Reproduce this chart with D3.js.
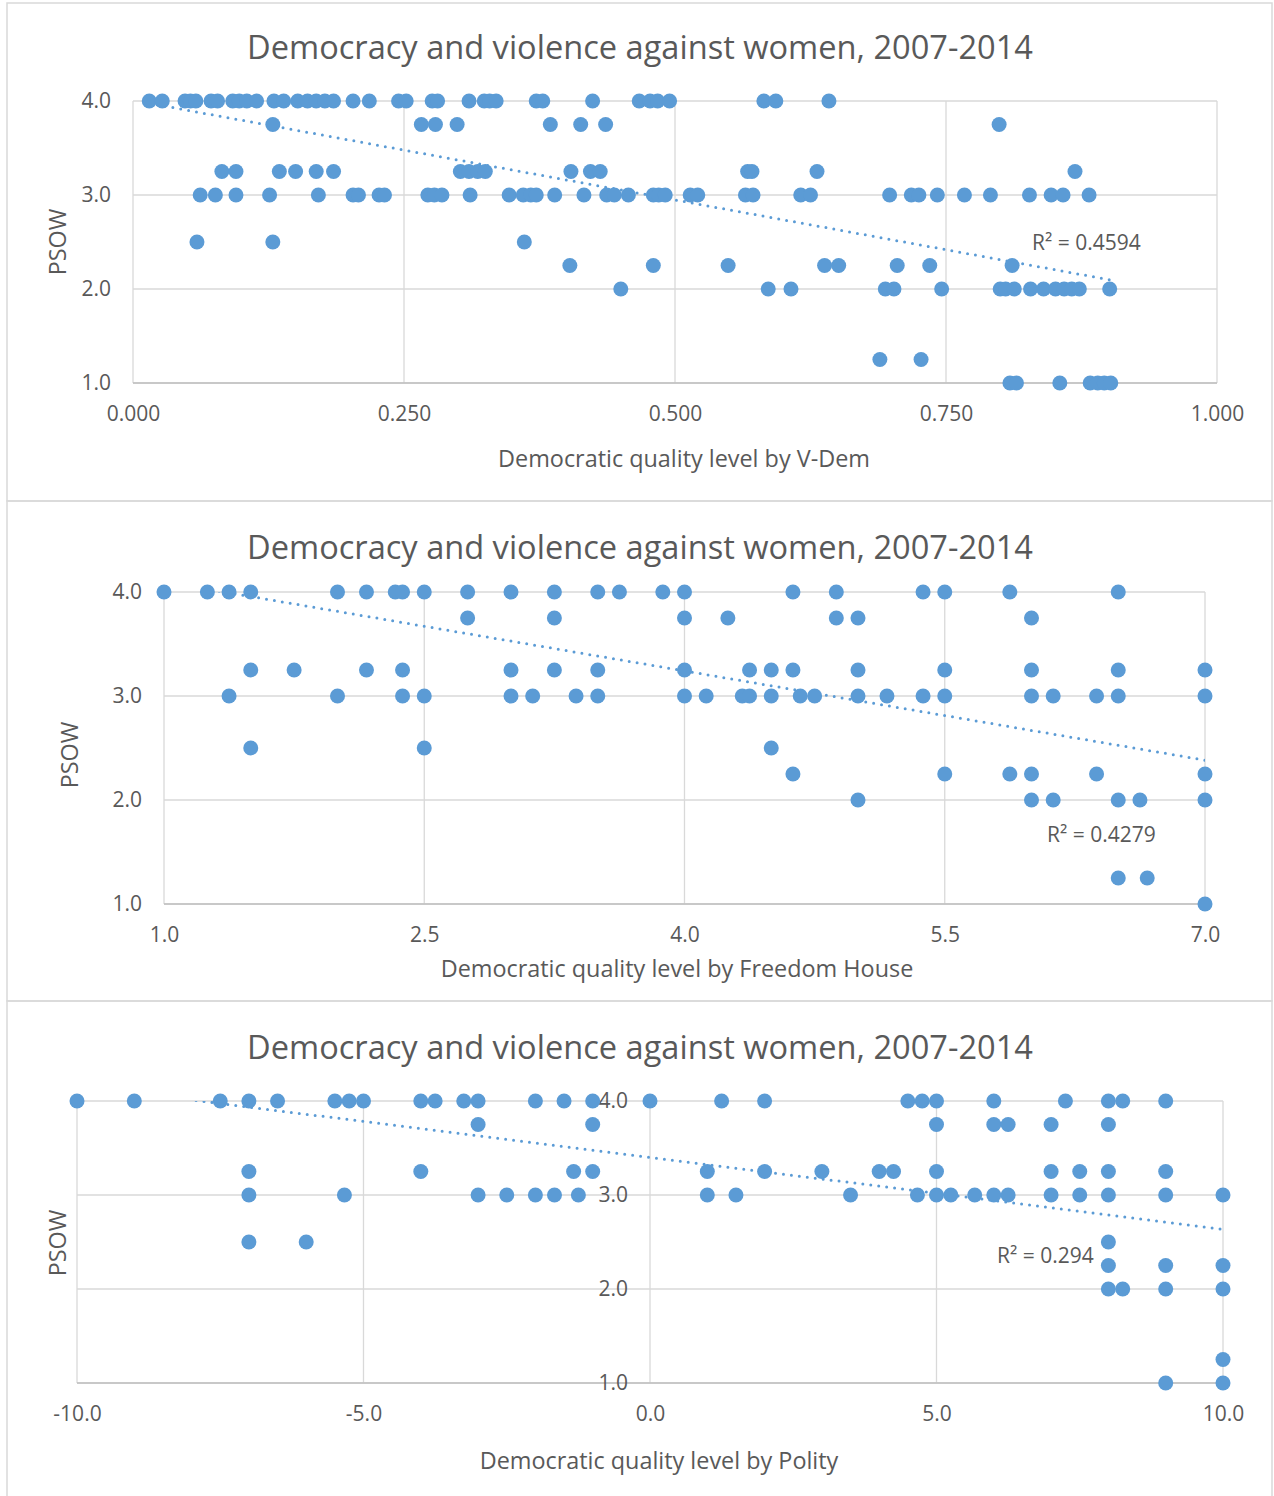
<!DOCTYPE html>
<html>
<head>
<meta charset="utf-8">
<script src="https://cdn.jsdelivr.net/npm/d3@7"></script>
<style>
  body { margin: 0; background: #fff; }
  svg { display: block; font-family: "Open Sans", sans-serif; }
</style>
</head>
<body>
<svg id="chart" width="1274" height="1496"></svg>
<script>
const blue = '#5b9bd5';
const grey = '#595959';
const gridGrey = '#d9d9d9';
const chartTitle = 'Democracy and violence against women, 2007-2014';

// every x list below lines up with these PSOW levels
const psowLevels = [4, 3.75, 3.25, 3, 2.5, 2.25, 2, 1.25, 1];
const psowTicks = [1, 2, 3, 4];

// V-Dem
const vdemScores = [
  [0.015, 0.027, 0.048, 0.053, 0.058, 0.072, 0.078, 0.092, 0.098, 0.105, 0.114, 0.130, 0.139,
   0.152, 0.161, 0.169, 0.177, 0.185, 0.203, 0.218, 0.245, 0.252, 0.276, 0.281, 0.310, 0.324,
   0.329, 0.335, 0.372, 0.378, 0.424, 0.467, 0.477, 0.484, 0.495, 0.582, 0.593, 0.642],
  [0.129, 0.266, 0.279, 0.299, 0.385, 0.413, 0.436, 0.799],
  [0.082, 0.095, 0.135, 0.150, 0.169, 0.185, 0.302, 0.310, 0.318, 0.325, 0.404, 0.422, 0.431,
   0.567, 0.571, 0.631, 0.869],
  [0.062, 0.076, 0.095, 0.126, 0.171, 0.203, 0.208, 0.227, 0.232, 0.272, 0.278, 0.285, 0.311,
   0.347, 0.360, 0.367, 0.372, 0.389, 0.416, 0.437, 0.444, 0.457, 0.480, 0.485, 0.491, 0.514,
   0.521, 0.565, 0.572, 0.616, 0.625, 0.698, 0.718, 0.725, 0.742, 0.767, 0.791, 0.827, 0.847,
   0.858, 0.882],
  [0.059, 0.129, 0.361],
  [0.403, 0.480, 0.549, 0.638, 0.651, 0.705, 0.735, 0.811],
  [0.450, 0.586, 0.607, 0.694, 0.702, 0.746, 0.800, 0.805, 0.813, 0.828, 0.840, 0.851, 0.859,
   0.866, 0.873, 0.901],
  [0.689, 0.727],
  [0.809, 0.815, 0.855, 0.883, 0.890, 0.896, 0.902]
];
const vdemTrend = [[0.015, 3.976], [0.902, 2.096]];
const vdemTicks = [0, 0.25, 0.5, 0.75, 1];

// Freedom House
const fhScores = [
  [1, 1.25, 1.375, 1.5, 2, 2.167, 2.333, 2.375, 2.5, 2.75, 3, 3.25, 3.5, 3.625, 3.875, 4,
   4.625, 4.875, 5.375, 5.5, 5.875, 6.5],
  [2.75, 3.25, 4, 4.25, 4.875, 5, 6],
  [1.5, 1.75, 2.167, 2.375, 3, 3.25, 3.5, 4, 4.375, 4.5, 4.625, 5, 5.5, 6, 6.5, 7],
  [1.375, 2, 2.375, 2.5, 3, 3.125, 3.375, 3.5, 4, 4.125, 4.333, 4.375, 4.5, 4.667, 4.75, 5,
   5.167, 5.375, 5.5, 6, 6.125, 6.375, 6.5, 7],
  [1.5, 2.5, 4.5],
  [4.625, 5.5, 5.875, 6, 6.375, 7],
  [5, 6, 6.125, 6.5, 6.625, 7],
  [6.5, 6.667],
  [7]
];
const fhTrend = [[1, 4.10], [7, 2.383]];
const fhTicks = [1, 2.5, 4, 5.5, 7];

// Polity
const polityScores = [
  [-10, -9, -7.5, -7, -6.5, -5.5, -5.25, -5, -4, -3.75, -3.25, -3, -2, -1.5, -1, 0, 1.25, 2,
   4.5, 4.75, 5, 6, 7.25, 8, 8.25, 9],
  [-3, -1, 5, 6, 6.25, 7, 8],
  [-7, -4, -1.333, -1, 1, 2, 3, 4, 4.25, 5, 7, 7.5, 8, 9],
  [-7, -5.333, -3, -2.5, -2, -1.667, -1.25, 1, 1.5, 3.5, 4.667, 5, 5.25, 5.667, 6, 6.25, 7,
   7.5, 8, 9, 10],
  [-7, -6, 8],
  [8, 9, 10],
  [8, 8.25, 9, 10],
  [10],
  [9, 10]
];
const polityTrend = [[-10, 4.165], [10, 2.635]];
const polityTicks = [-10, -5, 0, 5, 10];

const panels = [
  {
    scores: vdemScores, trend: vdemTrend, ticks: vdemTicks, fmt: d => d.toFixed(3),
    xTitle: 'Democratic quality level by V-Dem', r2: 'R² = 0.4594',
    top: 3, bottom: 501, plot: [133, 1217, 101, 383], yAxisAt: 0,
    titleY: 59, xTitleX: 684, xTitleY: 467, psowX: 58, psowY: 242, r2X: 1032, r2Y: 250
  },
  {
    scores: fhScores, trend: fhTrend, ticks: fhTicks, fmt: d => d.toFixed(1),
    xTitle: 'Democratic quality level by Freedom House', r2: 'R² = 0.4279',
    top: 501, bottom: 1001, plot: [164, 1205, 592, 904], yAxisAt: 1,
    titleY: 559, xTitleX: 677, xTitleY: 977, psowX: 70, psowY: 755, r2X: 1047, r2Y: 842
  },
  {
    scores: polityScores, trend: polityTrend, ticks: polityTicks, fmt: d => d.toFixed(1),
    xTitle: 'Democratic quality level by Polity', r2: 'R² = 0.294',
    top: 1001, bottom: 1500, plot: [77, 1223, 1101, 1383], yAxisAt: 0,
    titleY: 1059, xTitleX: 659, xTitleY: 1469, psowX: 58, psowY: 1243, r2X: 997, r2Y: 1263
  }
];

const svg = d3.select('#chart');

panels.forEach((p, i) => {
  const [left, right, plotTop, plotBottom] = p.plot;
  const g = svg.append('g');

  g.append('rect')
    .attr('x', 7).attr('y', p.top)
    .attr('width', 1265).attr('height', p.bottom - p.top)
    .attr('fill', 'none')
    .attr('stroke', gridGrey)
    .attr('stroke-width', 1.5);

  const x = d3.scaleLinear().domain(d3.extent(p.ticks)).range([left, right]);
  const y = d3.scaleLinear().domain([1, 4]).range([plotBottom, plotTop]);

  // gridlines
  g.append('g')
    .attr('stroke', gridGrey)
    .attr('stroke-width', 1.3)
    .call(grid => grid.selectAll('.h')
      .data(psowTicks)
      .join('line')
        .attr('x1', left).attr('x2', right)
        .attr('y1', d => y(d)).attr('y2', d => y(d)))
    .call(grid => grid.selectAll('.v')
      .data(p.ticks)
      .join('line')
        .attr('x1', d => x(d)).attr('x2', d => x(d))
        .attr('y1', plotTop).attr('y2', plotBottom));

  g.append('line')
    .attr('x1', left).attr('x2', right)
    .attr('y1', plotBottom).attr('y2', plotBottom)
    .attr('stroke', '#bfbfbf')
    .attr('stroke-width', 1.5);

  // axes
  const xAxis = g.append('g')
    .attr('transform', `translate(0,${plotBottom})`)
    .call(d3.axisBottom(x).tickValues(p.ticks).tickFormat(p.fmt).tickSize(0).tickPadding(23));

  const yAxis = g.append('g')
    .attr('transform', `translate(${x(p.yAxisAt)},0)`)
    .call(d3.axisLeft(y).tickValues(psowTicks).tickFormat(d => d.toFixed(1)).tickSize(0).tickPadding(22));

  [xAxis, yAxis].forEach(ax => {
    ax.select('.domain').remove();
    ax.attr('font-family', null).attr('font-size', null);
    ax.selectAll('text').attr('fill', grey).style('font-size', '21px');
  });

  // trend line, clipped to the plot area
  const clipId = `clip${i}`;
  g.append('clipPath').attr('id', clipId)
    .append('rect')
      .attr('x', left).attr('y', plotTop)
      .attr('width', right - left).attr('height', plotBottom - plotTop);

  g.append('path')
    .datum(p.trend)
    .attr('clip-path', `url(#${clipId})`)
    .attr('fill', 'none')
    .attr('stroke', blue)
    .attr('stroke-width', 3)
    .attr('stroke-linecap', 'round')
    .attr('stroke-dasharray', '0 8')
    .attr('d', d3.line().x(d => x(d[0])).y(d => y(d[1])));

  // points
  const points = p.scores.flatMap((xs, k) => xs.map(v => ({ x: v, y: psowLevels[k] })));
  g.append('g')
    .attr('fill', blue)
    .selectAll('circle')
    .data(points)
    .join('circle')
      .attr('cx', d => x(d.x))
      .attr('cy', d => y(d.y))
      .attr('r', 7.5);

  // texts
  g.append('text')
    .attr('x', 640).attr('y', p.titleY)
    .attr('text-anchor', 'middle')
    .attr('fill', grey)
    .style('font-size', '32.6px')
    .text(chartTitle);

  g.append('text')
    .attr('x', p.xTitleX).attr('y', p.xTitleY)
    .attr('text-anchor', 'middle')
    .attr('fill', grey)
    .style('font-size', '23.4px')
    .text(p.xTitle);

  g.append('text')
    .attr('transform', `translate(${p.psowX + 8},${p.psowY}) rotate(-90)`)
    .attr('text-anchor', 'middle')
    .attr('fill', grey)
    .style('font-size', '23.4px')
    .text('PSOW');

  g.append('text')
    .attr('x', p.r2X).attr('y', p.r2Y)
    .attr('fill', grey)
    .style('font-size', '21px')
    .text(p.r2);
});
</script>
</body>
</html>
